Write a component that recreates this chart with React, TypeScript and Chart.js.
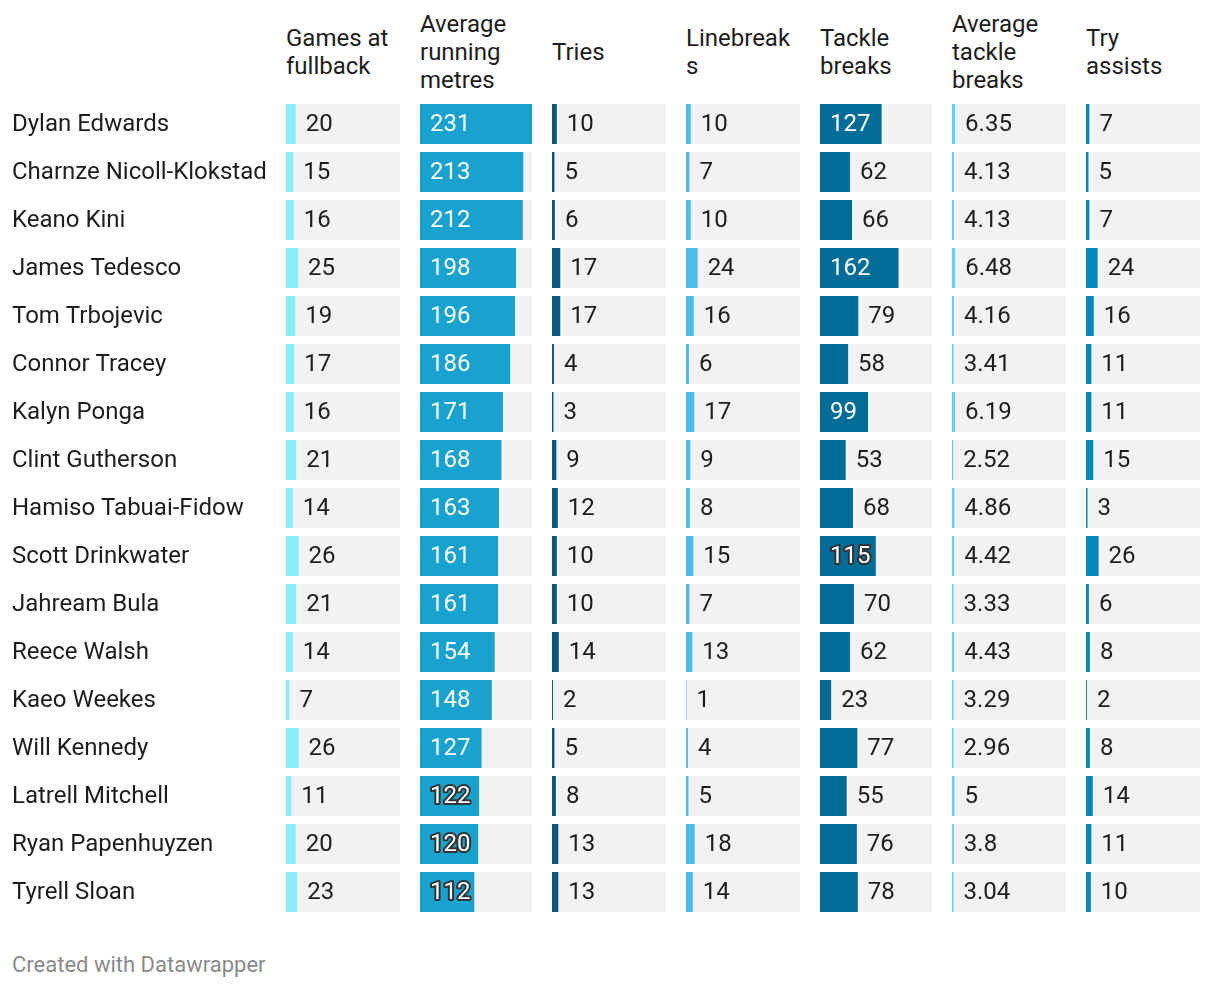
import React, { useEffect, useRef } from "react";
import { Chart, registerables } from "chart.js";

Chart.register(...registerables);

const players = [
  "Dylan Edwards",
  "Charnze Nicoll-Klokstad",
  "Keano Kini",
  "James Tedesco",
  "Tom Trbojevic",
  "Connor Tracey",
  "Kalyn Ponga",
  "Clint Gutherson",
  "Hamiso Tabuai-Fidow",
  "Scott Drinkwater",
  "Jahream Bula",
  "Reece Walsh",
  "Kaeo Weekes",
  "Will Kennedy",
  "Latrell Mitchell",
  "Ryan Papenhuyzen",
  "Tyrell Sloan",
];

const gamesAtFullback = [20, 15, 16, 25, 19, 17, 16, 21, 14, 26, 21, 14, 7, 26, 11, 20, 23];
const avgRunningMetres = [231, 213, 212, 198, 196, 186, 171, 168, 163, 161, 161, 154, 148, 127, 122, 120, 112];
const tries = [10, 5, 6, 17, 17, 4, 3, 9, 12, 10, 10, 14, 2, 5, 8, 13, 13];
const linebreaks = [10, 7, 10, 24, 16, 6, 17, 9, 8, 15, 7, 13, 1, 4, 5, 18, 14];
const tackleBreaks = [127, 62, 66, 162, 79, 58, 99, 53, 68, 115, 70, 62, 23, 77, 55, 76, 78];
const avgTackleBreaks = [6.35, 4.13, 4.13, 6.48, 4.16, 3.41, 6.19, 2.52, 4.86, 4.42, 3.33, 4.43, 3.29, 2.96, 5, 3.8, 3.04];
const tryAssists = [7, 5, 7, 24, 16, 11, 11, 15, 3, 26, 6, 8, 2, 8, 14, 11, 10];

const headers = [
  ["Games at", "fullback"],
  ["Average", "running", "metres"],
  ["Tries"],
  ["Linebreak", "s"],
  ["Tackle", "breaks"],
  ["Average", "tackle", "breaks"],
  ["Try", "assists"],
];

const columnValues = [
  gamesAtFullback,
  avgRunningMetres,
  tries,
  linebreaks,
  tackleBreaks,
  avgTackleBreaks,
  tryAssists,
];

const columnColors = ["#86effa", "#18a2cf", "#0a5880", "#4bbde9", "#006d98", "#5cd4fa", "#0089b8"];

const FONT = "Roboto, 'Noto Sans', sans-serif";
const TEXT = "#1d1d1d";
const GREY = "#f2f2f2";
const MAX_VALUE = Math.max(...columnValues.flat());

// layout (pixels)
const COL_LEFTS = [286, 420, 552, 686, 820, 952, 1086];
const COL_WIDTHS = [114, 112, 114, 114, 112, 114, 114];
const BAR_SPAN = 112;
const NAME_LEFT = 12;
const TOP = 100;
const ROW_H = 48;
const BAR_H = 40;
const FONT_SIZE = 24;
const BASELINE_OFFSET = 7.3;

function nameLabelOffset(): number {
  try {
    const c = document.createElement("canvas").getContext("2d");
    if (!c) return 0;
    c.font = `${FONT_SIZE}px ${FONT}`;
    c.textBaseline = "middle";
    const d = c.measureText("D").actualBoundingBoxDescent;
    if (!isFinite(d)) return 0;
    return BASELINE_OFFSET - d;
  } catch (e) {
    return 0;
  }
}

function BarColumn({ values, color, index }: { values: number[]; color: string; index: number }) {
  const ref = useRef<HTMLCanvasElement | null>(null);
  const showNames = index === 0;
  const colLeft = COL_LEFTS[index];
  const colW = COL_WIDTHS[index];
  const nameW = COL_LEFTS[0] - NAME_LEFT;
  const canvasLeft = showNames ? NAME_LEFT : colLeft;
  const canvasW = showNames ? nameW + colW : colW;
  const canvasH = players.length * ROW_H;
  const xMax = (MAX_VALUE * colW) / BAR_SPAN;

  useEffect(() => {
    if (!ref.current) return;
    const labelPlugin = {
      id: "valueLabels" + index,
      afterDatasetsDraw(chart: any) {
        const ctx = chart.ctx;
        const meta = chart.getDatasetMeta(0);
        ctx.save();
        ctx.font = `${FONT_SIZE}px ${FONT}`;
        ctx.textBaseline = "alphabetic";
        ctx.textAlign = "left";
        meta.data.forEach((bar: any, i: number) => {
          const v = values[i];
          const text = String(v);
          const left = Math.min(bar.base, bar.x);
          const right = Math.max(bar.base, bar.x);
          const w = right - left;
          const tw = ctx.measureText(text).width;
          const y = bar.y + BASELINE_OFFSET;
          if (v > MAX_VALUE * 0.4) {
            const x = left + 10;
            if (tw / w > 0.66) {
              ctx.lineJoin = "round";
              ctx.lineWidth = 4;
              ctx.strokeStyle = "#333333";
              ctx.strokeText(text, x, y);
            }
            ctx.fillStyle = "#ffffff";
            ctx.fillText(text, x, y);
          } else {
            ctx.fillStyle = TEXT;
            ctx.fillText(text, right + 10, y);
          }
        });
        ctx.restore();
      },
    };
    const yScale: any = {
      display: showNames,
      grid: { display: false },
      border: { display: false },
      ticks: {
        crossAlign: "far",
        padding: 0,
        color: TEXT,
        labelOffset: showNames ? nameLabelOffset() : 0,
        font: { size: FONT_SIZE, family: FONT },
      },
    };
    if (showNames) {
      yScale.afterFit = (scale: any) => {
        scale.width = nameW;
        scale.paddingTop = 0;
        scale.paddingBottom = 0;
      };
    }
    const chart = new Chart(ref.current, {
      type: "bar",
      data: {
        labels: players,
        datasets: [
          {
            data: values,
            backgroundColor: color,
            grouped: false,
            order: 1,
            barThickness: BAR_H,
            borderWidth: 0,
            inflateAmount: 0,
          } as any,
          {
            data: values.map(() => xMax),
            backgroundColor: GREY,
            grouped: false,
            order: 2,
            barThickness: BAR_H,
            borderWidth: 0,
            inflateAmount: 0,
          } as any,
        ],
      },
      options: {
        indexAxis: "y",
        responsive: false,
        maintainAspectRatio: false,
        animation: false,
        events: [],
        layout: { padding: 0 },
        plugins: {
          legend: { display: false },
          tooltip: { enabled: false },
          title: { display: false },
        },
        scales: {
          x: { type: "linear", min: 0, max: xMax, display: false },
          y: yScale,
        },
      } as any,
      plugins: [labelPlugin],
    });
    return () => chart.destroy();
  }, []);

  return (
    <div style={{ position: "absolute", left: canvasLeft, top: TOP, width: canvasW, height: canvasH }}>
      <canvas ref={ref} width={canvasW} height={canvasH} style={{ display: "block", width: canvasW, height: canvasH }} />
    </div>
  );
}

export default function App() {
  return (
    <div
      style={{
        position: "absolute",
        left: 0,
        top: 0,
        width: 1220,
        height: 988,
        background: "#ffffff",
        fontFamily: FONT,
        color: TEXT,
      }}
    >
      {headers.map((lines, i) => (
        <div
          key={"h" + i}
          style={{
            position: "absolute",
            left: COL_LEFTS[i],
            top: 10,
            width: 130,
            height: 84,
            display: "flex",
            flexDirection: "column",
            justifyContent: "center",
            fontSize: FONT_SIZE,
            lineHeight: "28px",
            whiteSpace: "nowrap",
          }}
        >
          {lines.map((l, j) => (
            <div key={j}>{l}</div>
          ))}
        </div>
      ))}
      {columnValues.map((vals, i) => (
        <BarColumn key={"c" + i} values={vals} color={columnColors[i]} index={i} />
      ))}
      <div
        style={{
          position: "absolute",
          left: 12,
          top: 951,
          fontSize: 22,
          lineHeight: "28px",
          color: "#8a8a8a",
        }}
      >
        Created with Datawrapper
      </div>
    </div>
  );
}
